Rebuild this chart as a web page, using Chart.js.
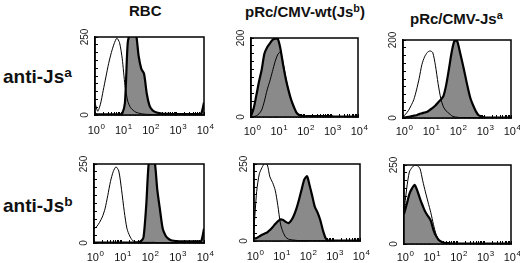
<!DOCTYPE html>
<html>
<head>
<meta charset="utf-8">
<script src="https://cdn.jsdelivr.net/npm/chart.js@4"></script>
<style>
body { margin:0; background:#fff; width:520px; height:263px; position:relative; overflow:hidden; font-family:"Liberation Sans", Arial, sans-serif; }
.t { position:absolute; font-weight:bold; white-space:nowrap; line-height:1; color:#111; }
.t sup { font-size:0.72em; position:relative; top:-0.42em; vertical-align:baseline; line-height:0; }
canvas { position:absolute; }
</style>
</head>
<body>
<div class="t" style="left:129px;top:3px;font-size:15px">RBC</div>
<div class="t" style="left:245px;top:4px;font-size:15px">pRc/CMV-wt(Js<sup>b</sup>)</div>
<div class="t" style="left:410px;top:11px;font-size:15px">pRc/CMV-Js<sup>a</sup></div>
<div class="t" style="left:3px;top:67px;font-size:19px">anti-Js<sup>a</sup></div>
<div class="t" style="left:3px;top:196px;font-size:19px">anti-Js<sup>b</sup></div>

<canvas id="p1"></canvas>
<canvas id="p2"></canvas>
<canvas id="p3"></canvas>
<canvas id="p4"></canvas>
<canvas id="p5"></canvas>
<canvas id="p6"></canvas>

<script>
// fluorescence channel, in decades (10^0 .. 10^4)
const decades = [0,0.1,0.2,0.3,0.4,0.5,0.6,0.7,0.8,0.9,1,1.1,1.2,1.3,1.4,1.5,1.6,1.7,1.8,1.9,2,
                 2.1,2.2,2.3,2.4,2.5,2.6,2.7,2.8,2.9,3,3.1,3.2,3.3,3.4,3.5,3.6,3.7,3.8,3.9,4];
const tickExponents = [0, 1, 2, 3, 4];

// anti-Js(a) row: control (open) and stained (filled)
const rbcJsaOpen = [40,12,35,78,122,165,200,228,246,232, 180,95,45,24,15,9,6,4,3,2, 2,1,1,1,1,1,1,1,1,1, 1,1,1,1,1,1,1,1,1,1, 1];
const rbcJsaFill = [3,2,2,2,2,2,2,2,2,2, 5,40,230,262,262,262,190,148,132,68, 30,16,10,7,5,4,4,4,3,3, 3,3,3,3,3,3,3,3,3,5, 40];
const wtJsaOpen  = [0,1,3,8,18,40,68,90,115,140, 158,165,138,100,68,44,24,10,5,3, 2,1,1,1,1,1,1,1,1,1, 1,1,1,1,1,1,1,1,1,1, 1];
const wtJsaFill  = [2,22,55,90,120,160,176,186,195,198, 198,173,132,97,68,44,26,11,5,3, 2,2,2,2,2,2,2,2,2,2, 2,1,1,1,1,1,1,1,1,1, 2];
const jsaJsaOpen = [3,10,19,32,47,72,102,137,157,168, 172,168,135,88,50,28,18,12,6,3, 2,1,1,1,1,1,1,1,1,1, 1,1,1,1,1,1,1,1,1,1, 1];
const jsaJsaFill = [1,2,3,4,6,7,10,12,14,16, 21,26,32,40,47,57,85,125,168,197, 198,172,142,110,78,50,32,17,7,4, 2,1,1,1,1,1,1,1,1,1, 1];

// anti-Js(b) row
const rbcJsbOpen = [45,52,65,82,108,150,195,226,241,228, 170,100,45,22,8,4,3,2,2,2, 2,2,2,1,1,1,1,1,1,1, 1,1,1,1,1,1,1,1,1,1, 1];
const rbcJsbFill = [1,1,1,1,1,1,1,1,1,1, 1,1,1,1,1,1,2,5,18,120, 262,262,262,170,105,45,24,14,9,7, 6,5,5,5,5,5,5,5,5,6, 45];
const wtJsbOpen  = [40,160,218,238,252,248,208,190,165,115, 55,28,12,6,4,3,2,1,1,1, 1,1,1,1,1,1,1,1,1,1, 1,1,1,1,1,1,1,1,1,1, 1];
const wtJsbFill  = [8,10,15,20,24,28,36,45,55,64, 70,68,62,58,66,82,105,135,168,200, 210,180,145,110,92,68,35,10,2,1, 1,1,1,1,1,1,1,1,1,1, 1];
const jsaJsbOpen = [100,175,228,242,250,248,238,200,165,132, 100,62,30,13,7,4,3,2,1,1, 1,1,1,1,1,1,1,1,1,1, 1,1,1,1,1,1,1,1,1,1, 1];
const jsaJsbFill = [95,125,158,176,187,168,143,121,101,88, 74,45,25,13,7,4,3,2,1,1, 1,1,1,1,1,1,1,1,1,1, 1,1,1,1,1,1,1,1,1,1, 1];

const yMaxes = [250, 200, 200, 250, 250, 250];

// minor log ticks 1..9 x 10^n
const logTicks = [];
for (let n = 0; n < 4; n++) for (let k = 1; k <= 9; k++) logTicks.push(n + Math.log10(k));
logTicks.push(4);

const FONT = '"Liberation Sans", Arial, sans-serif';

const framePlugin = {
  id: 'frame',
  afterDatasetsDraw(chart) {
    const a = chart.chartArea, c = chart.ctx;
    c.save();
    c.strokeStyle = '#000';
    c.lineWidth = 1.5;
    c.strokeRect(a.left, a.top, a.right - a.left, a.bottom - a.top);
    c.restore();
  }
};

// "10" with a raised exponent under each decade tick
const powerLabels = {
  id: 'powerLabels',
  afterDraw(chart, args, opts) {
    const s = chart.scales.x, c = chart.ctx;
    const y = chart.chartArea.bottom + opts.drop;
    c.save();
    c.fillStyle = '#111';
    c.textBaseline = 'alphabetic';
    c.textAlign = 'left';
    tickExponents.forEach(e => {
      const px = s.getPixelForValue(e);
      c.font = '11px ' + FONT;
      const w1 = c.measureText('10').width;
      c.font = '8px ' + FONT;
      const w2 = c.measureText(String(e)).width;
      const x0 = px - (w1 + w2) / 2 + 1;
      c.font = '11px ' + FONT;
      c.fillText('10', x0, y);
      c.font = '8px ' + FONT;
      c.fillText(String(e), x0 + w1 + 0.5, y - 5);
    });
    c.restore();
  }
};

const padL = 22, padT = 8, padR = 12, padB = 24;

function panel(id, frame, open, filled, yMax, drop) {
  const [L, T, R, B] = frame;
  const cv = document.getElementById(id);
  cv.width = R - L + padL + padR;
  cv.height = B - T + padT + padB;
  cv.style.left = (L - padL) + 'px';
  cv.style.top = (T - padT) + 'px';
  const pts = arr => arr.map((v, i) => ({ x: decades[i], y: v }));
  return new Chart(cv, {
    type: 'line',
    data: {
      datasets: [
        { data: pts(open), borderColor: '#000', borderWidth: 1, fill: false, pointRadius: 0, tension: 0.25 },
        { data: pts(filled), borderColor: '#000', borderWidth: 2.2, backgroundColor: '#8a8a8a', fill: 'origin', pointRadius: 0, tension: 0.25 }
      ]
    },
    options: {
      responsive: false,
      animation: false,
      layout: { padding: { left: 0, top: padT, right: padR, bottom: 0 } },
      plugins: { legend: { display: false }, tooltip: { enabled: false }, powerLabels: { drop: drop } },
      scales: {
        x: {
          type: 'linear', min: 0, max: 4,
          afterBuildTicks: s => { s.ticks = logTicks.map(v => ({ value: v })); },
          afterFit: s => { s.height = padB; },
          border: { color: '#000', width: 1.5 },
          grid: { drawOnChartArea: false, drawTicks: true, tickLength: -3, color: '#000' },
          ticks: { autoSkip: false, maxRotation: 0, callback: () => '' }
        },
        y: {
          min: 0, max: yMax,
          afterBuildTicks: s => {
            const t = [];
            for (let i = 0; i <= 10; i++) t.push({ value: yMax * i / 10 });
            s.ticks = t;
          },
          afterFit: s => { s.width = padL; },
          border: { color: '#000', width: 1.5 },
          grid: { drawOnChartArea: false, drawTicks: true, tickLength: -3, color: '#000' },
          ticks: {
            autoSkip: false, minRotation: 90, maxRotation: 90, crossAlign: 'center', padding: 4,
            color: '#222',
            font: { size: 10, family: FONT },
            callback: v => (v === 0 || v === yMax) ? String(v) : ''
          }
        }
      }
    },
    plugins: [framePlugin, powerLabels]
  });
}

panel('p1', [95, 35, 204, 115], rbcJsaOpen, rbcJsaFill, yMaxes[0], 19);
panel('p2', [251, 36, 358, 117], wtJsaOpen, wtJsaFill, yMaxes[1], 18);
panel('p3', [403, 38, 511, 118], jsaJsaOpen, jsaJsaFill, yMaxes[2], 17);
panel('p4', [94, 162, 204, 243], rbcJsbOpen, rbcJsbFill, yMaxes[3], 17.5);
panel('p5', [254, 162, 360, 241], wtJsbOpen, wtJsbFill, yMaxes[4], 19);
panel('p6', [404, 163, 511, 244], jsaJsbOpen, jsaJsbFill, yMaxes[5], 17);
</script>
</body>
</html>
